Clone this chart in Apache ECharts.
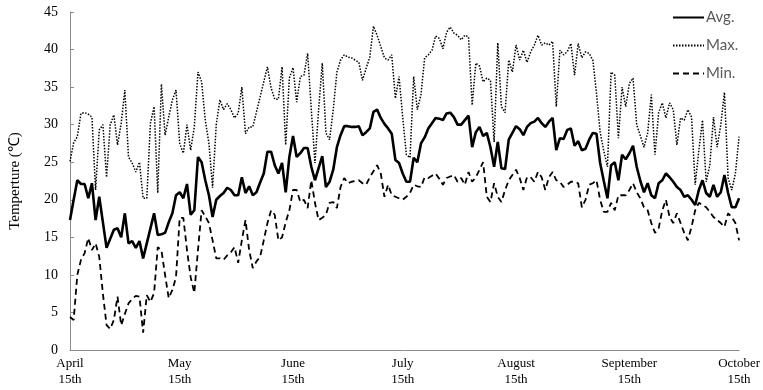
<!DOCTYPE html>
<html>
<head>
<meta charset="utf-8">
<script src="https://cdn.jsdelivr.net/npm/echarts@6/dist/echarts.min.js"></script>
<style>html,body{margin:0;padding:0;background:#fff}#c{width:763px;height:390px}</style>
</head>
<body>
<div id="c"></div>
<script>
// Day index 0 = April 15th, 183 = October 15th
const tickDays = [0, 30, 61, 91, 122, 153, 183];
const tickLabels = ['April\n15th', 'May\n15th', 'June\n15th', 'July\n15th', 'August\n15th', 'September\n15th', 'October\n15th'];
const seriesNames = ['Avg.', 'Max.', 'Min.'];

const avgTemp = [
17.3,20.0,22.6,22.1,22.1,20.2,22.2,17.3,20.4,17.0,
13.6,14.8,16.0,16.2,15.0,18.2,14.2,14.5,13.6,14.5,
12.2,14.2,16.2,18.2,15.3,15.4,15.6,17.0,18.2,20.6,
21.0,20.2,22.1,18.0,18.6,25.7,25.0,22.6,20.6,17.7,
20.0,20.5,20.9,21.6,21.3,20.6,20.6,23.0,20.9,21.8,
20.6,21.0,22.3,23.5,26.4,26.4,24.6,23.5,24.9,21.0,
25.7,28.5,25.7,26.2,26.9,26.9,24.4,22.6,24.2,25.8,
21.7,22.4,24.0,27.0,28.6,29.8,29.8,29.7,29.7,29.8,
28.6,29.0,29.5,31.7,32.0,30.9,30.1,29.5,28.8,25.3,
24.9,23.5,22.4,22.4,25.6,25.0,27.5,28.3,29.5,30.2,
30.9,30.8,30.6,31.5,31.6,31.0,30.0,30.0,30.6,31.2,
27.0,29.0,29.7,28.5,28.9,27.0,24.4,27.7,24.2,24.1,
28.0,28.9,29.8,29.4,28.6,29.7,30.2,30.4,30.9,30.2,
29.7,30.4,30.9,26.6,28.2,28.1,29.3,29.5,27.2,27.8,
26.6,26.8,28.0,28.9,28.8,24.9,22.5,20.2,24.6,25.0,
22.6,26.0,25.4,26.2,27.2,24.4,22.5,21.0,22.2,20.6,
20.2,22.2,22.6,23.5,23.0,22.4,21.7,21.3,20.4,20.6,
20.0,19.3,21.3,22.6,20.9,20.4,22.0,20.4,21.0,23.3,
20.9,19.0,19.0,20.2
];

const maxTemp = [
25.1,27.6,28.4,31.5,31.6,31.4,31.0,21.3,29.3,30.0,
23.0,30.0,31.3,27.3,30.2,34.6,25.7,24.9,23.7,25.0,
20.2,20.2,30.2,32.4,20.9,35.4,28.6,31.0,33.3,34.6,
27.5,26.2,30.0,26.6,29.7,37.0,35.7,30.6,27.5,21.6,
30.0,33.3,32.0,32.8,32.0,30.9,31.5,35.0,28.8,29.7,
29.7,31.7,33.7,35.7,37.7,34.9,33.4,33.4,37.7,27.3,
36.2,37.6,33.0,36.4,36.6,39.5,32.0,24.9,32.0,38.2,
28.9,28.0,32.0,37.0,38.6,39.3,39.0,38.9,38.6,38.3,
35.9,37.5,39.0,43.1,41.9,40.4,38.9,38.6,39.3,33.5,
36.4,31.0,26.0,25.6,36.4,32.0,34.0,38.9,39.3,39.9,
41.8,41.5,40.1,42.3,43.0,42.2,41.9,41.3,41.9,41.7,
32.6,38.2,37.8,35.7,36.2,35.9,27.7,40.9,32.4,31.6,
38.6,37.0,40.6,38.6,39.9,38.3,39.7,40.6,41.9,40.6,
40.9,40.6,41.1,32.4,39.9,39.3,39.7,40.8,36.6,40.8,
38.9,39.7,39.5,38.6,34.2,29.0,26.5,24.4,37.0,36.6,
28.2,35.0,32.4,35.5,36.2,30.0,28.5,27.0,28.9,34.0,
26.0,31.6,32.9,30.9,32.9,32.0,27.3,30.9,30.6,32.0,
31.0,22.0,26.6,30.6,22.4,24.6,31.0,27.0,30.0,34.3,
22.9,21.3,23.5,28.4
];

const minTemp = [
4.4,4.0,10.0,12.0,12.9,14.9,13.3,14.2,12.4,7.5,
3.3,2.8,4.0,7.1,3.3,4.8,6.2,6.8,7.2,7.1,
2.3,7.3,6.4,7.6,13.7,13.3,10.0,6.9,8.0,9.7,
17.6,17.6,13.3,9.7,7.6,13.3,18.6,17.8,16.9,14.6,
12.2,12.2,12.0,12.6,13.0,13.7,11.6,14.6,17.3,13.3,
10.9,11.8,12.4,14.6,16.9,18.6,18.0,14.6,15.0,17.0,
18.6,21.3,21.3,19.7,20.0,18.9,22.6,19.6,17.3,17.6,
18.0,19.6,19.7,18.9,21.7,22.9,22.2,22.4,22.5,22.6,
22.2,22.0,23.0,23.8,24.6,23.5,20.4,22.0,20.6,20.4,
20.2,20.0,20.4,20.9,22.0,21.8,21.7,23.0,22.9,23.2,
23.5,22.8,22.0,22.9,23.1,23.3,22.4,22.9,22.0,23.7,
22.4,23.0,24.0,25.0,20.4,19.7,22.2,20.4,19.7,21.3,
22.6,23.3,24.0,22.9,21.3,23.0,23.0,22.4,23.7,23.0,
21.3,23.0,23.7,22.6,22.4,21.7,22.0,22.4,22.4,22.2,
19.0,20.0,22.0,22.2,22.6,20.0,18.4,18.4,19.6,18.6,
20.6,20.6,20.6,21.3,22.2,21.0,20.2,19.0,18.6,16.9,
15.6,16.2,18.6,20.0,17.7,16.9,18.2,16.9,15.6,14.6,
16.4,18.6,19.6,19.3,19.0,18.4,17.7,17.3,16.9,16.4,
18.2,17.7,16.9,14.6
];

function pairs(arr) { return arr.map((v, i) => [i, v]); }

const chart = echarts.init(document.getElementById('c'), null, {renderer: 'canvas'});
const serif = '"Liberation Serif", "Times New Roman", serif';
chart.setOption({
  animation: false,
  backgroundColor: '#fff',
  grid: {left: 65, right: 21, top: 12, bottom: 40, containLabel: false},
  legend: {
    orient: 'vertical',
    left: 672,
    top: 10,
    padding: 0,
    itemWidth: 31,
    itemHeight: 14,
    itemGap: 13,
    itemStyle: {opacity: 0},
    textStyle: {color: '#595959', fontFamily: 'Lato, "Open Sans", sans-serif', fontSize: 15, padding: [0, 0, 0, -3]},
    data: seriesNames
  },
  xAxis: {
    type: 'value',
    min: 0,
    max: 183,
    splitLine: {show: false},
    axisLine: {show: true, lineStyle: {color: '#8c8c8c', width: 1}},
    axisTick: {show: false},
    axisLabel: {
      customValues: tickDays,
      color: '#000',
      fontFamily: serif,
      fontSize: 13,
      lineHeight: 16,
      margin: 6,
      formatter: function (v) {
        const k = tickDays.indexOf(v);
        return k >= 0 ? tickLabels[k] : '';
      }
    }
  },
  yAxis: {
    type: 'value',
    min: 0,
    max: 45,
    interval: 5,
    name: 'Temperture (℃)',
    nameLocation: 'middle',
    nameGap: 47,
    nameTextStyle: {color: '#000', fontFamily: serif, fontSize: 15},
    splitLine: {show: false},
    axisLine: {show: true, lineStyle: {color: '#8c8c8c', width: 1}},
    axisTick: {show: true, inside: true, length: 4, lineStyle: {color: '#8c8c8c'}},
    axisLabel: {color: '#000', fontFamily: serif, fontSize: 14, margin: 12}
  },
  series: [
    {name: seriesNames[0], type: 'line', data: pairs(avgTemp), symbol: 'none',
     lineStyle: {color: '#000', width: 2.6, type: 'solid'}, itemStyle: {color: '#000'}, z: 3},
    {name: seriesNames[1], type: 'line', data: pairs(maxTemp), symbol: 'none',
     lineStyle: {color: '#000', width: 1.5, type: [1.5, 1.5]}, itemStyle: {color: '#000'}, z: 2},
    {name: seriesNames[2], type: 'line', data: pairs(minTemp), symbol: 'none',
     lineStyle: {color: '#000', width: 1.8, type: [6, 4]}, itemStyle: {color: '#000'}, z: 2}
  ]
});
</script>
</body>
</html>
